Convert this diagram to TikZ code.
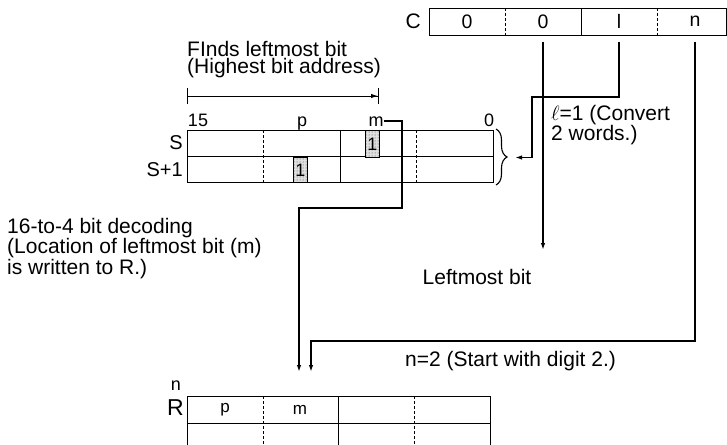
\documentclass[tikz,border=0pt]{standalone}
\usepackage{fontspec}
\setmainfont{Liberation Sans}
\usetikzlibrary{arrows.meta, decorations.pathreplacing, patterns}
\tikzset{
    regbox/.style={draw, line width=1pt, inner sep=0pt},
    divsolid/.style={line width=1pt},
    divdash/.style={line width=0.8pt, dash pattern=on 3pt off 2pt},
    celltext/.style={inner sep=0pt, font=\fontsize{17}{17}\selectfont},
    numlabel/.style={inner sep=0pt, anchor=base, font=\fontsize{18}{18}\selectfont},
    reglabel/.style={inner sep=0pt, anchor=east, font=\fontsize{20}{20}\selectfont},
    bitbox/.style={draw, line width=0.8pt, inner sep=0pt, preaction={fill=gray!25}, pattern=dots, pattern color=black!75, font=\fontsize{18}{18}\selectfont},
    note/.style={inner sep=0pt, align=left, anchor=north west},
    wire/.style={line width=1.5pt},
    arrow/.style={wire, -{Latex[length=7pt,width=4.5pt]}},
}
\begin{document}
\begin{tikzpicture}[x=1pt, y=-1pt,
  dimline/.style={line width=1pt, {Bar[width=16pt]}-{Latex[length=7pt,width=4.5pt]Bar[width=16pt]}},
  brace/.style={line width=1.1pt, decorate, decoration={brace, amplitude=11pt}}
]
\useasboundingbox (0,0) rectangle (727,444);

% control word C
\node[regbox, minimum width=297pt, minimum height=27pt, anchor=north west] (C) at (429,8) {};
\foreach \x/\s in {505/divdash, 581/divsolid, 657/divdash}
  \draw[\s] (\x,8) -- (\x,35);
\foreach \x/\t [count=\i] in {467/0, 543/0, 619/l, 695/n}
  \node[celltext, font=\fontsize{19.5}{19.5}\selectfont] (c\i) at (\x,21.5) {\t};
\node[reglabel, font=\fontsize{21}{21}\selectfont] (Clab) at (421,21) {C};

% source words S, S+1
\node[note, font=\fontsize{21}{17.5}\selectfont] (finds) at (187,41) {FInds leftmost bit\\(Highest bit address)};
\coordinate (dimL) at (187,96);
\coordinate (dimR) at (379,96);
\draw[dimline] (dimL) -- (dimR);

\node[regbox, minimum width=306pt, minimum height=52pt, anchor=north west] (S) at (187,130) {};
\draw[divsolid] (S.west) -- (S.east);
\foreach \x/\s in {263/divdash, 340/divsolid, 416/divdash}
  \draw[\s] (\x,130) -- (\x,182);
\node[bitbox, minimum width=14pt, minimum height=27pt, anchor=north west] (bitm) at (365,130) {1};
\node[bitbox, minimum width=14pt, minimum height=25pt, anchor=north west] (bitp) at (293,157) {1};

\node[numlabel] (l15) at (198,126) {15};
\node[numlabel] (lp) at (302,126) {p};
\node[numlabel] (lm) at (376,126) {m};
\node[numlabel] (l0) at (489,126) {0};
\node[reglabel] (Slab) at (183,143) {S};
\node[reglabel] (S1lab) at (183,170) {S+1};

\coordinate (brtop) at (496,129);
\coordinate (brbot) at (496,185);
\draw[brace] (brtop) -- (brbot);
\coordinate (brtip) at (515,157.5);

% notes
\node[note, font=\fontsize{21}{20.5}\selectfont] (lnote) at (551,105) {$\ell$=1 (Convert\\2 words.)};
\node[note, font=\fontsize{21}{16.5}\selectfont] (decnote) at (7,218) {16-to-4 bit decoding\\(Location of leftmost bit (m)\\is written to R.)};
\node[inner sep=0pt, font=\fontsize{21}{21}\selectfont] (lmb) at (477,277) {Leftmost bit};
\node[inner sep=0pt, anchor=west, font=\fontsize{21}{21}\selectfont] (nnote) at (405,361) {n=2 (Start with digit 2.)};

% result word R
\node[regbox, minimum width=303pt, minimum height=54pt, anchor=north west] (R) at (187,396) {};
\draw[divsolid] (R.west) -- (R.east);
\foreach \x/\s in {263/divdash, 338/divsolid, 414/divdash}
  \draw[\s] (\x,396) -- (\x,450);
\node[celltext] (rp) at (225,410) {p};
\node[celltext] (rm) at (300,410) {m};
\node[reglabel, font=\fontsize{23}{23}\selectfont] (Rlab) at (184,408) {R};
\node[reglabel, font=\fontsize{18}{18}\selectfont] (Rn) at (181,386) {n};

% connectors
\coordinate (lbend) at (532,97);
\coordinate (lmbend) at (543,250);
\coordinate (mbend) at (402,208);
\coordinate (mend) at (299,372);
\coordinate (nbend) at (311,341);
\coordinate (nend) at (311,372);

\draw[arrow] ([yshift=-6pt]c2 |- C.south) -- (lmbend);
\draw[arrow] ([yshift=-6pt]c3 |- C.south) |- (lbend) |- (brtip);
\draw[arrow] ([yshift=-6pt]c4 |- C.south) |- (nbend) -- (nend);
\draw[arrow] (lm.east) -| (mbend) -| (mend);
\end{tikzpicture}
\end{document}
